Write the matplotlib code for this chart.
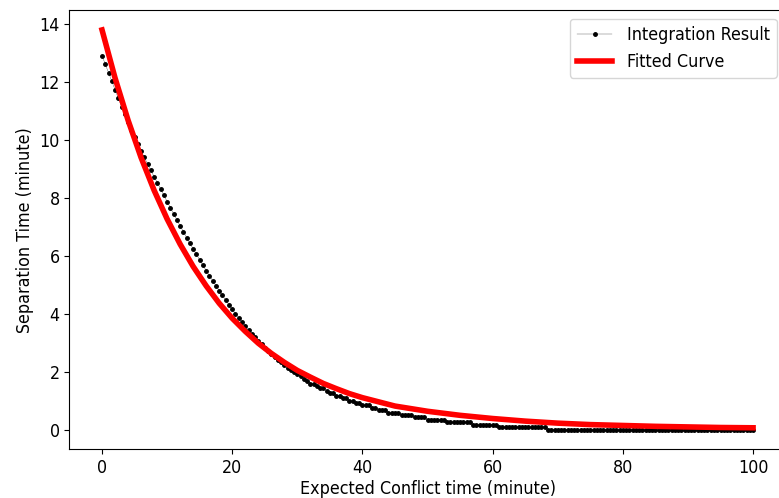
import numpy as np
import matplotlib
matplotlib.use("Agg")
import matplotlib.pyplot as plt
from matplotlib import font_manager

# integration result, sampled every 0.5 minute from 0 to 100
t_int = np.arange(0, 100.5, 0.5)
sep_int = [
    12.91, 12.62, 12.32, 12.03, 11.73, 11.44, 11.15, 10.88, 10.61, 10.35,
    10.10, 9.86, 9.62, 9.40, 9.17, 8.95, 8.73, 8.52, 8.31, 8.09,
    7.87, 7.66, 7.45, 7.24, 7.03, 6.83, 6.63, 6.43, 6.24, 6.05,
    5.86, 5.67, 5.49, 5.31, 5.14, 4.97, 4.80, 4.63, 4.47, 4.31,
    4.15, 4.00, 3.86, 3.71, 3.57, 3.43, 3.30, 3.18, 3.06, 2.94,
    2.83, 2.72, 2.61, 2.51, 2.41, 2.32, 2.23, 2.14, 2.06, 1.98,
    1.917, 1.833, 1.75, 1.667, 1.583, 1.583, 1.5, 1.417, 1.417, 1.333,
    1.25, 1.25, 1.167, 1.167, 1.083, 1.083, 1.0, 1.0, 0.917, 0.917,
    0.833, 0.833, 0.833, 0.75, 0.75, 0.667, 0.667, 0.667, 0.583, 0.583,
    0.583, 0.583, 0.5, 0.5, 0.5, 0.5, 0.417, 0.417, 0.417, 0.417,
    0.333, 0.333, 0.333, 0.333, 0.333, 0.333, 0.25, 0.25, 0.25, 0.25,
    0.25, 0.25, 0.25, 0.25, 0.167, 0.167, 0.167, 0.167, 0.167, 0.167,
    0.167, 0.167, 0.083, 0.083, 0.083, 0.083, 0.083, 0.083, 0.083, 0.083,
    0.083, 0.083, 0.083, 0.083, 0.083, 0.083, 0.083, 0, 0, 0,
    0, 0, 0, 0, 0, 0, 0, 0, 0, 0,
    0, 0, 0, 0, 0, 0, 0, 0, 0, 0,
    0, 0, 0, 0, 0, 0, 0, 0, 0, 0,
    0, 0, 0, 0, 0, 0, 0, 0, 0, 0,
    0, 0, 0, 0, 0, 0, 0, 0, 0, 0,
    0, 0, 0, 0, 0, 0, 0, 0, 0, 0,
    0,
]

# fitted curve
t_fit = [0, 2, 4, 6, 8, 10, 12, 14, 16, 18, 20, 22, 24, 26, 28, 30, 32, 34,
         36, 38, 40, 45, 50, 55, 60, 65, 70, 75, 80, 85, 90, 95, 100]
sep_fit = [13.80, 12.14, 10.68, 9.39, 8.26, 7.27, 6.40, 5.63, 4.96, 4.36,
           3.84, 3.39, 2.98, 2.63, 2.32, 2.04, 1.81, 1.59, 1.41, 1.24,
           1.10, 0.81, 0.63, 0.49, 0.38, 0.29, 0.22, 0.17, 0.14, 0.11,
           0.09, 0.07, 0.06]

# the reference text looks squeezed sideways, use the condensed cut if present
names = {f.name for f in font_manager.fontManager.ttflist}
if "DejaVu Sans Condensed" in names or any(
        f.name == "DejaVu Sans" and f.stretch == "condensed"
        for f in font_manager.fontManager.ttflist):
    plt.rcParams["font.stretch"] = "condensed"
    fs = 12.8
else:
    fs = 11.5
plt.rcParams["font.family"] = ["DejaVu Sans"]

fig = plt.figure(figsize=(7.79, 4.98), dpi=100)
ax = fig.add_axes([0.0892, 0.0974, 0.9193, 0.8826])

ax.plot(t_int, sep_int, marker=".", markersize=5, color="black", linewidth=0.2,
        label="Integration Result")
ax.plot(t_fit, sep_fit, color="red", linewidth=4, label="Fitted Curve")

ax.set_xlabel("Expected Conflict time (minute)", fontsize=fs, labelpad=2)
ax.set_ylabel("Separation Time (minute)", fontsize=fs)
ax.tick_params(labelsize=fs)
ax.legend(loc="upper right", fontsize=fs)

fig.savefig("out.png", dpi=100)
